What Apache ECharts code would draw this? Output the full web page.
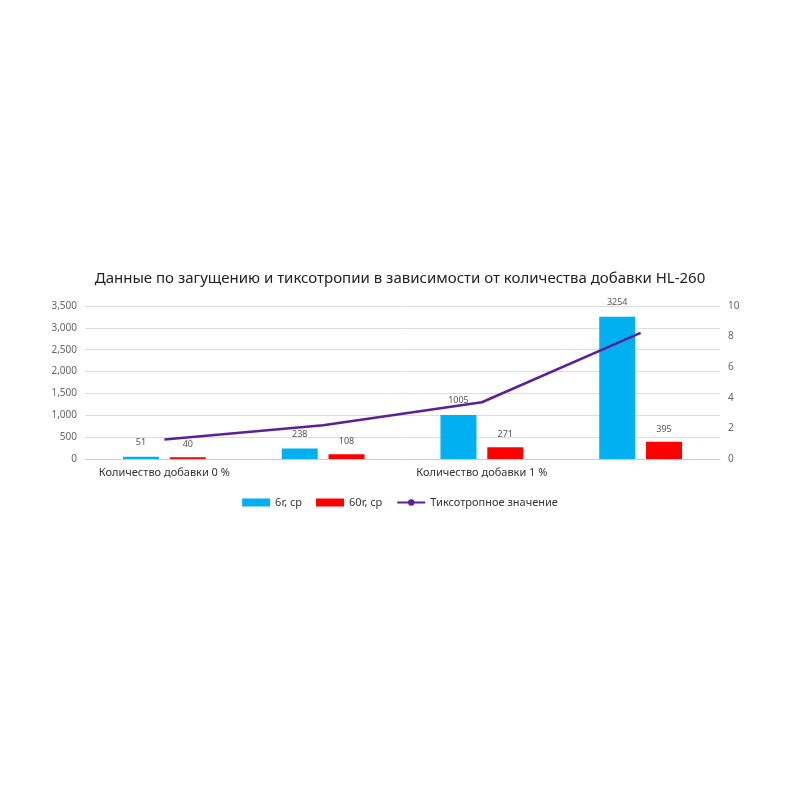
<!DOCTYPE html>
<html>
<head>
<meta charset="utf-8">
<script src="https://cdn.jsdelivr.net/npm/echarts@6/dist/echarts.min.js"></script>
<style>html,body{margin:0;background:#fff}#c{width:800px;height:800px}</style>
</head>
<body>
<div id="c"></div>
<script>
const categories = ["Количество добавки 0 %", "Количество добавки 0,5 %", "Количество добавки 1 %", "Количество добавки 2 %"];
const visc6 = [51, 238, 1005, 3254];
const visc60 = [40, 108, 271, 395];
const thixo = [1.28, 2.2, 3.71, 8.24];

const chart = echarts.init(document.getElementById("c"));
const axisLabel = { color: "#666", fontSize: 10, fontFamily: "Noto Sans" };
chart.setOption({
  textStyle: { fontFamily: "Noto Sans" },
  title: {
    text: "Данные по загущению и тиксотропии в зависимости от количества добавки HL-260",
    left: "center", top: 266,
    textStyle: { fontSize: 15, fontWeight: "normal", color: "#222" }
  },
  legend: {
    top: 492, left: "center", itemWidth: 28, itemHeight: 8, itemGap: 14,
    textStyle: { fontSize: 11, color: "#333" },
    data: [
      { name: "6r, cp", icon: "rect" },
      { name: "60r, cp", icon: "rect" },
      { name: "Тиксотропное значение" }
    ]
  },
  grid: { left: 85, right: 80, top: 306, bottom: 341 },
  xAxis: {
    type: "category", data: categories,
    axisTick: { show: false },
    axisLine: { lineStyle: { color: "#ccc" } },
    axisLabel: { color: "#333", fontSize: 11, margin: 8 }
  },
  yAxis: [
    { type: "value", min: 0, max: 3500, interval: 500, axisLabel,
      splitLine: { lineStyle: { color: "#ddd" } } },
    { type: "value", min: 0, max: 10, interval: 2, axisLabel, splitLine: { show: false } }
  ],
  series: [
    { name: "6r, cp", type: "bar", data: visc6, barWidth: 36, barGap: "30%",
      itemStyle: { color: "#00b0f0" },
      label: { show: true, position: "top", color: "#555", fontSize: 9, distance: 10 } },
    { name: "60r, cp", type: "bar", data: visc60, barWidth: 36,
      itemStyle: { color: "#ff0000" },
      label: { show: true, position: "top", color: "#555", fontSize: 9, distance: 8 } },
    { name: "Тиксотропное значение", type: "line", yAxisIndex: 1, data: thixo,
      symbol: "none", lineStyle: { color: "#5b1f9a", width: 2.5 },
      itemStyle: { color: "#5b1f9a" },
      label: { show: true, position: "right", color: "#555", fontSize: 9, offset: [2, -2] } }
  ]
});
</script>
</body>
</html>
